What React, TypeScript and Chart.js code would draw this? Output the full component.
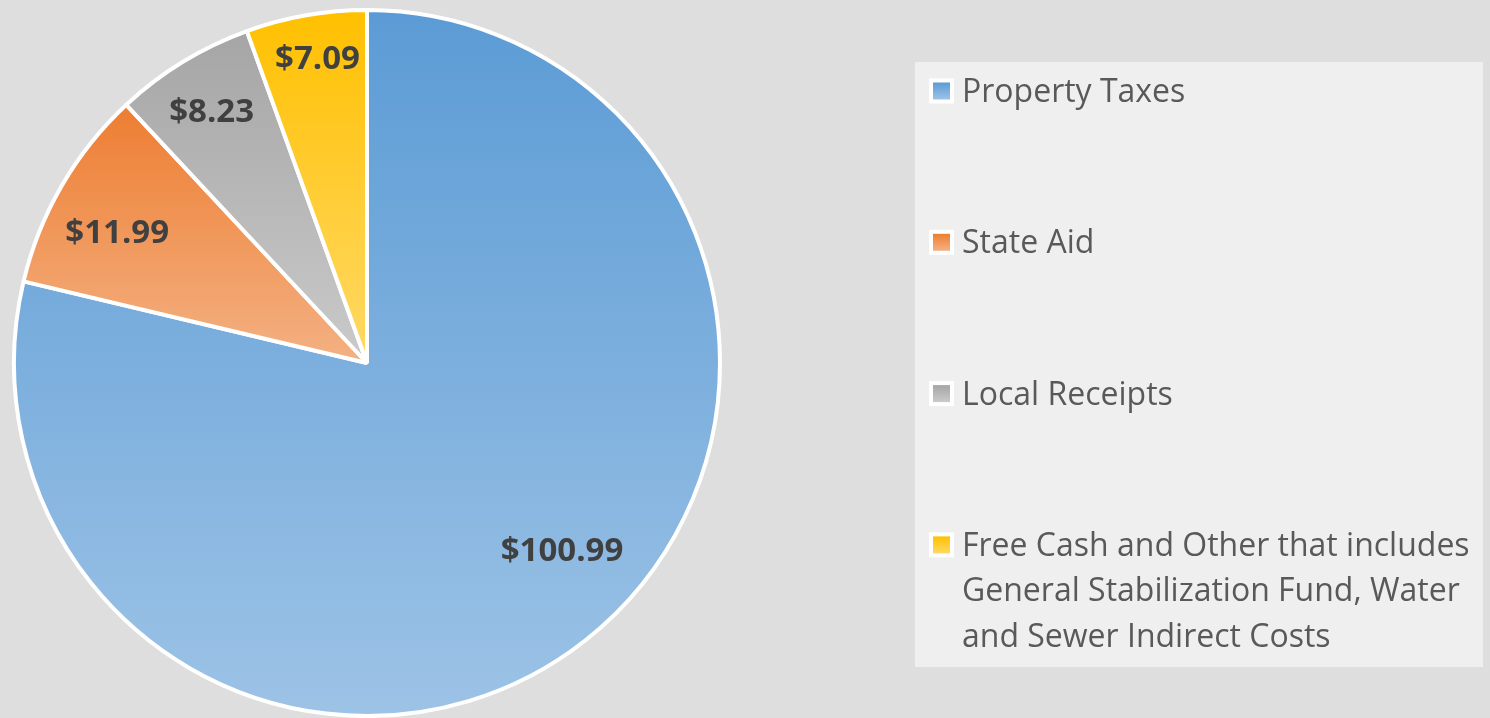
import { useEffect, useRef } from "react";
import { Chart, registerables } from "chart.js";

Chart.register(...registerables);

// ---- data ----
const categories = [
  "Property Taxes",
  "State Aid",
  "Local Receipts",
  "Free Cash and Other that includes General Stabilization Fund, Water and Sewer Indirect Costs",
];
const legendLines = [
  ["Property Taxes"],
  ["State Aid"],
  ["Local Receipts"],
  ["Free Cash and Other that includes", "General Stabilization Fund, Water", "and Sewer Indirect Costs"],
];
const values = [100.99, 11.99, 8.23, 7.09];
const valueLabels = ["$100.99", "$11.99", "$8.23", "$7.09"];
const topColors = ["#5b9bd5", "#ed7d31", "#a5a5a5", "#ffc000"];
const bottomColors = ["#9dc3e6", "#f4b183", "#cacaca", "#ffd966"];

// ---- styling / placement ----
const W = 1490;
const H = 718;
const PAGE_BG = "#dedede";
const LEGEND_BG = "#efefef";
const labelAngleFrac = [0.4715, 0.429, 0.493, 0.538];
const labelRadiusFrac = [0.763, 0.8, 0.84, 0.878];
const LEGEND_BOX = { x: 915, y: 62, w: 568, h: 605 };
const LEGEND_TEXT_X = 962;
const LEGEND_FIRST_BASELINE = 102;
const LEGEND_ITEM_STEP = 151.3;
const LEGEND_LINE_STEP = 45.5;
const LEGEND_FONT_SIZE = 32;
const LABEL_FONT_SIZE = 33;
const FONT = "'Open Sans', 'Noto Sans', sans-serif";

function sliceGradient(context: any) {
  const chart = context.chart;
  const i = context.dataIndex ?? 0;
  const area = chart.chartArea;
  if (!area) return topColors[i];
  const cx = (area.left + area.right) / 2;
  const cy = (area.top + area.bottom) / 2;
  const r = Math.min(area.right - area.left, area.bottom - area.top) / 2;
  const total = values.reduce((a, b) => a + b, 0);
  let before = 0;
  for (let k = 0; k < i; k++) before += values[k];
  const a0 = -Math.PI / 2 + (before / total) * Math.PI * 2;
  const a1 = a0 + (values[i] / total) * Math.PI * 2;
  let minY = cy;
  let maxY = cy;
  const steps = 200;
  for (let s = 0; s <= steps; s++) {
    const a = a0 + ((a1 - a0) * s) / steps;
    const y = cy + Math.sin(a) * r;
    if (y < minY) minY = y;
    if (y > maxY) maxY = y;
  }
  const g = chart.ctx.createLinearGradient(0, minY, 0, maxY);
  g.addColorStop(0, topColors[i]);
  g.addColorStop(1, bottomColors[i]);
  return g;
}

const backgroundPlugin = {
  id: "pageBackground",
  beforeDraw(chart: any) {
    const ctx = chart.ctx;
    ctx.save();
    ctx.fillStyle = PAGE_BG;
    ctx.fillRect(0, 0, chart.width, chart.height);
    ctx.restore();
  },
};

const legendPlugin = {
  id: "boxLegend",
  afterDraw(chart: any) {
    const ctx = chart.ctx;
    ctx.save();
    ctx.fillStyle = LEGEND_BG;
    ctx.fillRect(LEGEND_BOX.x, LEGEND_BOX.y, LEGEND_BOX.w, LEGEND_BOX.h);
    ctx.font = `${LEGEND_FONT_SIZE}px ${FONT}`;
    ctx.textBaseline = "alphabetic";
    ctx.textAlign = "left";
    legendLines.forEach((lines, i) => {
      const base = LEGEND_FIRST_BASELINE + i * LEGEND_ITEM_STEP;
      const cyMark = base - 11;
      // white frame
      ctx.fillStyle = "#ffffff";
      ctx.fillRect(929, cyMark - 12.5, 25, 25);
      const g = ctx.createLinearGradient(0, cyMark - 8.5, 0, cyMark + 8.5);
      g.addColorStop(0, topColors[i]);
      g.addColorStop(1, bottomColors[i]);
      ctx.fillStyle = g;
      ctx.fillRect(933, cyMark - 8.5, 17, 17);
      ctx.fillStyle = "#595959";
      lines.forEach((ln, j) => {
        ctx.fillText(ln, LEGEND_TEXT_X, base + j * LEGEND_LINE_STEP);
      });
    });
    ctx.restore();
  },
};

const valueLabelPlugin = {
  id: "valueLabels",
  afterDatasetsDraw(chart: any) {
    const ctx = chart.ctx;
    const meta = chart.getDatasetMeta(0);
    ctx.save();
    ctx.font = `bold ${LABEL_FONT_SIZE}px ${FONT}`;
    ctx.fillStyle = "#404040";
    ctx.textAlign = "center";
    ctx.textBaseline = "alphabetic";
    const capH = LABEL_FONT_SIZE * 0.714;
    meta.data.forEach((arc: any, i: number) => {
      const p = arc.getProps(["x", "y", "startAngle", "endAngle", "outerRadius"], true);
      const a = p.startAngle + labelAngleFrac[i] * (p.endAngle - p.startAngle);
      const r = labelRadiusFrac[i] * p.outerRadius;
      const x = p.x + Math.cos(a) * r;
      const y = p.y + Math.sin(a) * r;
      ctx.fillText(valueLabels[i], x, y + capH / 2);
    });
    ctx.restore();
  },
};

export default function App() {
  const canvasRef = useRef<HTMLCanvasElement | null>(null);

  useEffect(() => {
    document.body.style.margin = "0";
    document.body.style.background = PAGE_BG;
    const canvas = canvasRef.current;
    if (!canvas) return;
    const chart = new Chart(canvas, {
      type: "pie",
      data: {
        labels: categories,
        datasets: [
          {
            data: values,
            backgroundColor: sliceGradient as any,
            borderColor: "#ffffff",
            borderWidth: 4,
          },
        ],
      },
      options: {
        responsive: false,
        animation: false,
        devicePixelRatio: 1,
        layout: { padding: { left: 12, top: 8, right: W - 722, bottom: 0 } },
        plugins: {
          legend: { display: false },
          tooltip: { enabled: false },
          title: { display: false },
        },
      },
      plugins: [backgroundPlugin, valueLabelPlugin, legendPlugin],
    });
    return () => chart.destroy();
  }, []);

  return (
    <div style={{ width: W, height: H, background: PAGE_BG }}>
      <canvas ref={canvasRef} width={W} height={H} style={{ display: "block", width: W, height: H }} />
    </div>
  );
}
